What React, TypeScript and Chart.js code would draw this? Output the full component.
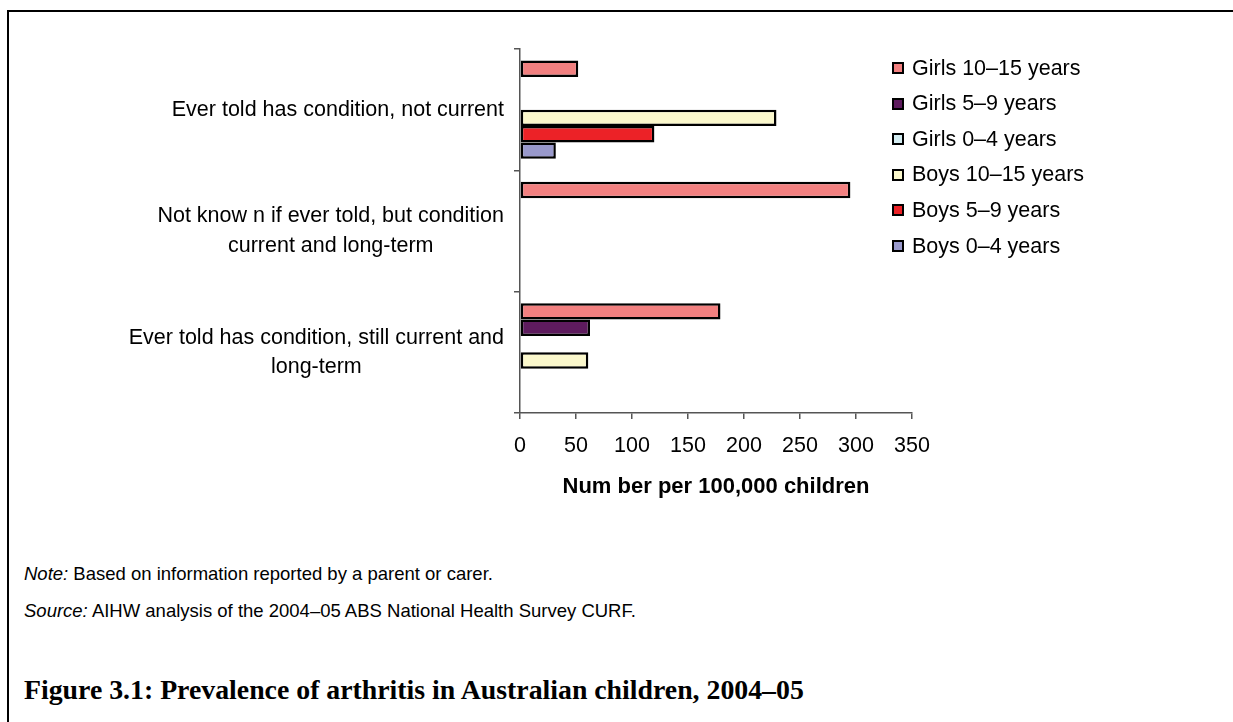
import React, { useEffect, useRef } from "react";
import { Chart, registerables } from "chart.js";

Chart.register(...registerables);

// Category labels (top to bottom), split into display lines
const categories: string[][] = [
  ["Ever told has condition, not current"],
  ["Not know n if ever told, but condition", "current and long-term"],
  ["Ever told has condition, still current and", "long-term"],
];

const seriesNames = [
  "Girls 10–15 years",
  "Girls 5–9 years",
  "Girls 0–4 years",
  "Boys 10–15 years",
  "Boys 5–9 years",
  "Boys 0–4 years",
];

// Number per 100,000 children, one entry per category
const girls10to15 = [52, 295, 179];
const girls5to9 = [null, null, 62.5];
const girls0to4 = [null, null, null];
const boys10to15 = [229, null, 61];
const boys5to9 = [120, null, null];
const boys0to4 = [32, null, null];

const seriesValues = [girls10to15, girls5to9, girls0to4, boys10to15, boys5to9, boys0to4];
const seriesColors = ["#F28080", "#5E1B5E", "#D3ECF1", "#FBF8CC", "#EC2227", "#9999CC"];

const xMin = 0;
const xMax = 350;
const xStep = 50;
const xTitle = "Num ber per 100,000 children";

const noteText = "Based on information reported by a parent or carer.";
const sourceText = "AIHW analysis of the 2004–05 ABS National Health Survey CURF.";
const figureTitle = "Figure 3.1: Prevalence of arthritis in Australian children, 2004–05";

const SANS = '"Liberation Sans", Arial, Helvetica, sans-serif';
const LABEL_SIZE = 21.5;

// Draws the category names to the left of the axis: each block right-aligned,
// lines centred within the block.
const categoryLabelPlugin = {
  id: "categoryLabels",
  afterDraw(chart: any) {
    const { ctx, scales } = chart;
    const y = scales.y;
    const x = scales.x;
    const right = x.left - 16;
    const lineH = 29.5;
    ctx.save();
    ctx.font = `${LABEL_SIZE}px ${SANS}`;
    ctx.fillStyle = "#000";
    ctx.textAlign = "center";
    ctx.textBaseline = "middle";
    categories.forEach((lines, i) => {
      const cy = y.getPixelForValue(i);
      const widest = Math.max(...lines.map((l) => ctx.measureText(l).width));
      const cx = right - widest / 2;
      lines.forEach((line, j) => {
        ctx.fillText(line, cx, cy + (j - (lines.length - 1) / 2) * lineH);
      });
    });
    ctx.restore();
  },
};

function BarChart() {
  const ref = useRef<HTMLCanvasElement | null>(null);

  useEffect(() => {
    if (!ref.current) return;
    const chart = new Chart(ref.current, {
      type: "bar",
      data: {
        labels: categories.map((c) => c.join(" ")),
        datasets: seriesNames.map((name, i) => ({
          label: name,
          data: seriesValues[i],
          backgroundColor: seriesColors[i],
          borderColor: "#000",
          borderWidth: 2.5,
          borderSkipped: false,
          barPercentage: 1,
          categoryPercentage: 0.81,
        })),
      },
      options: {
        indexAxis: "y",
        animation: false,
        responsive: false,
        devicePixelRatio: 1,
        events: [],
        layout: { padding: { top: 49, right: 321, left: 0, bottom: 0 } },
        plugins: {
          legend: { display: false },
          tooltip: { enabled: false },
        },
        scales: {
          x: {
            type: "linear",
            min: xMin,
            max: xMax,
            ticks: {
              stepSize: xStep,
              color: "#000",
              padding: 14,
              font: { family: SANS, size: LABEL_SIZE },
            },
            grid: {
              drawOnChartArea: false,
              drawTicks: true,
              tickLength: 6,
              color: "#555",
              lineWidth: 1.5,
            },
            border: { display: true, color: "#555", width: 1.5 },
            title: {
              display: true,
              text: xTitle,
              color: "#000",
              font: { family: SANS, size: 22, weight: "bold" },
              padding: { top: 0, bottom: 20 },
            },
            afterFit: (scale: any) => {
              scale.height = 107;
            },
          },
          y: {
            type: "category",
            ticks: { display: false },
            grid: {
              offset: true,
              drawOnChartArea: false,
              drawTicks: true,
              tickLength: 6,
              color: "#555",
              lineWidth: 1.5,
            },
            border: { display: true, color: "#555", width: 1.5 },
            afterFit: (scale: any) => {
              scale.width = 520;
            },
          },
        },
      } as any,
      plugins: [categoryLabelPlugin],
    });
    return () => chart.destroy();
  }, []);

  return (
    <canvas
      ref={ref}
      width={1233}
      height={520}
      style={{ position: "absolute", left: 0, top: 0, width: 1233, height: 520 }}
    />
  );
}

export default function App() {
  const legendTop = 68;
  const legendStep = 35.6;
  return (
    <div
      style={{
        position: "fixed",
        left: 0,
        top: 0,
        width: 1233,
        height: 722,
        background: "#fff",
        overflow: "hidden",
        fontFamily: SANS,
      }}
    >
      <div
        style={{
          position: "absolute",
          left: 7,
          top: 10,
          right: -10,
          bottom: -10,
          borderTop: "2px solid #000",
          borderLeft: "2px solid #000",
        }}
      />
      <BarChart />
      {seriesNames.map((name, i) => (
        <div
          key={name}
          style={{
            position: "absolute",
            left: 892,
            top: legendTop + i * legendStep - 15,
            height: 30,
            display: "flex",
            alignItems: "center",
            fontSize: LABEL_SIZE,
            color: "#000",
            whiteSpace: "nowrap",
          }}
        >
          <span
            style={{
              display: "inline-block",
              width: 12,
              height: 12,
              boxSizing: "border-box",
              border: "2px solid #000",
              background: seriesColors[i],
              marginRight: 8,
            }}
          />
          {name}
        </div>
      ))}
      <div
        style={{
          position: "absolute",
          left: 24,
          top: 563,
          fontSize: 18.5,
          lineHeight: "22px",
          whiteSpace: "nowrap",
        }}
      >
        <i>Note:</i> {noteText}
      </div>
      <div
        style={{
          position: "absolute",
          left: 24,
          top: 600,
          fontSize: 18.5,
          lineHeight: "22px",
          whiteSpace: "nowrap",
        }}
      >
        <i>Source:</i> {sourceText}
      </div>
      <div
        style={{
          position: "absolute",
          left: 24,
          top: 675,
          fontFamily: '"Liberation Serif", "Times New Roman", serif',
          fontWeight: "bold",
          fontSize: 27.8,
          lineHeight: "30px",
          whiteSpace: "nowrap",
        }}
      >
        {figureTitle}
      </div>
    </div>
  );
}
